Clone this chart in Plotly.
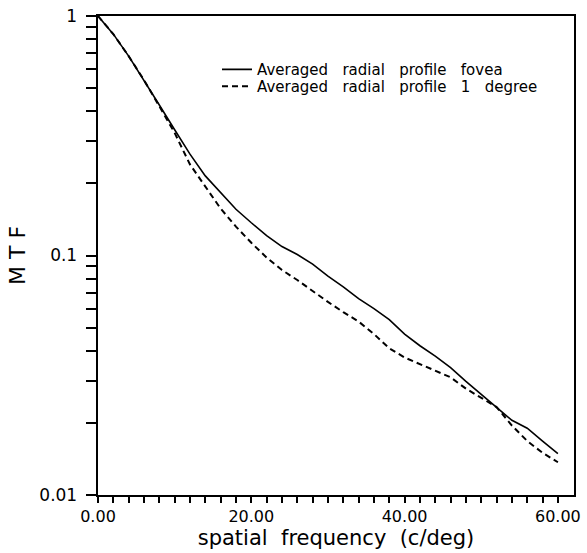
import plotly.graph_objects as go

freq = [0, 1, 2, 4, 6, 8, 10, 12, 14, 16, 18, 20, 22, 24, 26, 28, 30, 32, 34, 36,
        38, 40, 42, 44, 46, 48, 50, 52, 54, 56, 58, 60]
mtf_fovea = [1.0, 0.92, 0.84, 0.68, 0.54, 0.425, 0.335, 0.265, 0.215, 0.184, 0.156,
             0.137, 0.121, 0.109, 0.101, 0.092, 0.082, 0.074, 0.066, 0.060, 0.054,
             0.047, 0.042, 0.038, 0.034, 0.0298, 0.0262, 0.0232, 0.0205, 0.0190,
             0.0168, 0.0149]
mtf_1deg = [1.0, 0.92, 0.84, 0.68, 0.54, 0.42, 0.325, 0.24, 0.193, 0.157, 0.132,
            0.113, 0.098, 0.087, 0.079, 0.071, 0.064, 0.058, 0.053, 0.047, 0.041,
            0.0375, 0.0352, 0.033, 0.031, 0.0278, 0.0255, 0.0233, 0.0195, 0.0168,
            0.0150, 0.0137]

sp = "\u00a0"
s3 = sp * 3
name_fovea = s3.join(["Averaged", "radial", "profile", "fovea"])
name_1deg = s3.join(["Averaged", "radial", "profile", "1", "degree"])

x_major = [0, 20, 40, 60]
x_labels = ["0.00", "20.00", "40.00", "60.00"]
x_minor = list(range(0, 61, 2))
y_major = [0.01, 0.1, 1]
y_labels = ["0.01", "0.1", "1"]
y_minor = [m * d for d in (0.01, 0.1) for m in range(2, 10)]

FONT = "DejaVu Sans"

fig = go.Figure()
fig.add_trace(go.Scatter(x=freq, y=mtf_fovea, mode="lines", name=name_fovea,
                         legend="legend",
                         line=dict(color="black", width=1.6)))
fig.add_trace(go.Scatter(x=freq, y=mtf_1deg, mode="lines", name=name_1deg,
                         legend="legend2",
                         line=dict(color="black", width=2, dash="6px,4px")))

leg_common = dict(xanchor="left", yanchor="middle", bgcolor="rgba(0,0,0,0)",
                  font=dict(size=15, family=FONT), itemwidth=30)
fig.update_layout(
    width=587, height=553,
    margin=dict(l=98, r=6, t=13, b=58),
    paper_bgcolor="white", plot_bgcolor="white",
    font=dict(family=FONT, color="black", size=15),
    showlegend=True,
    legend=dict(x=0.25, y=1 - (67 - 13) / 482, **leg_common),
    legend2=dict(x=0.25, y=1 - (84 - 13) / 482, **leg_common),
)
fig.update_xaxes(
    range=[0, 62.1], tickvals=x_major, ticktext=x_labels,
    ticks="outside", ticklen=6, tickwidth=2, tickcolor="black",
    minor=dict(tickvals=x_minor, ticks="outside", ticklen=6, tickwidth=1.5, tickcolor="black"),
    showline=True, linewidth=2, linecolor="black", mirror=True,
    showgrid=False, zeroline=False, ticklabeloverflow="allow",
    tickfont=dict(size=16, family=FONT),
    title=dict(text=(sp * 2).join(["spatial", "frequency", "(c/deg)"]) + sp * 3,
               font=dict(size=21, family=FONT), standoff=2),
)
fig.update_yaxes(
    type="log", range=[-2, 0], tickvals=y_major, ticktext=[t + sp for t in y_labels],
    ticks="outside", ticklen=10, tickwidth=2, tickcolor="black",
    minor=dict(tickvals=y_minor, ticks="outside", ticklen=10, tickwidth=1.5, tickcolor="black"),
    showline=True, linewidth=2, linecolor="black", mirror=True,
    showgrid=False, zeroline=False, ticklabeloverflow="allow",
    tickfont=dict(size=17, family=FONT),
    title=dict(text=sp * 2 + sp.join(["M", "T", "F"]), font=dict(size=22, family=FONT), standoff=8),
)

fig.write_html("out.html")
